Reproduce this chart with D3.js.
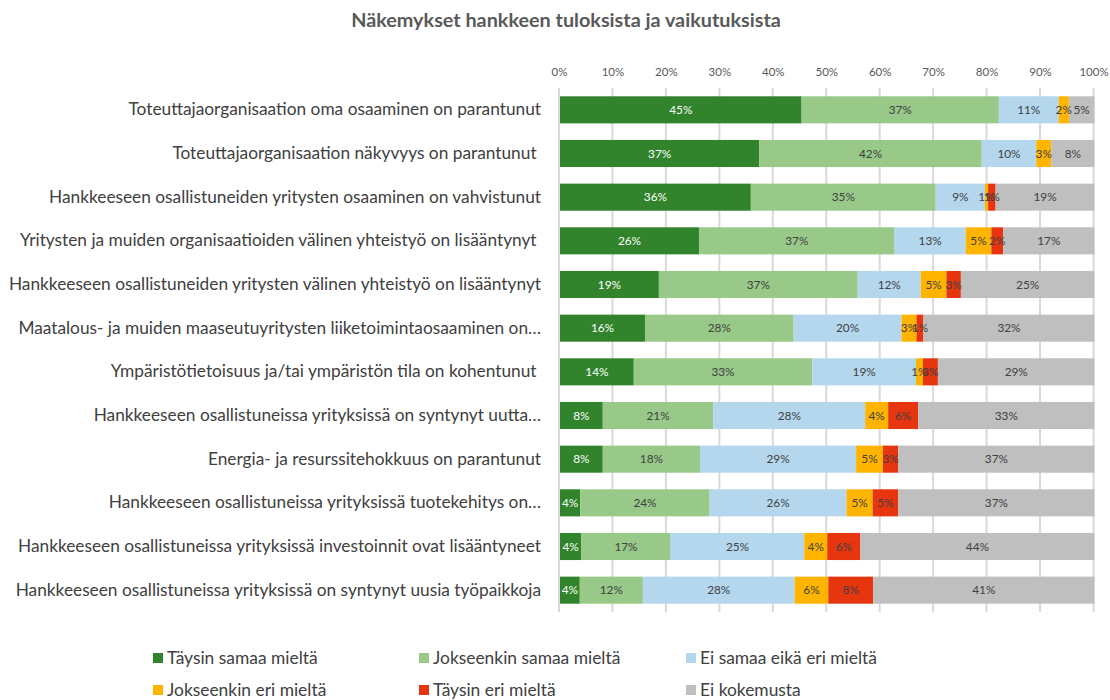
<!DOCTYPE html>
<html><head><meta charset="utf-8">
<script src="https://cdn.jsdelivr.net/npm/d3@7"></script>
<style>
html,body{margin:0;padding:0;background:#fff;}
svg{display:block;font-family:Lato,"Open Sans",sans-serif;}
</style></head>
<body>
<svg id="chart" width="1110" height="700"></svg>
<script>
const title = "Näkemykset hankkeen tuloksista ja vaikutuksista";
const categories = [
  "Toteuttajaorganisaation oma osaaminen on parantunut",
  "Toteuttajaorganisaation näkyvyys on parantunut\u00A0",
  "Hankkeeseen osallistuneiden yritysten osaaminen on vahvistunut",
  "Yritysten ja muiden organisaatioiden välinen yhteistyö on lisääntynyt\u00A0",
  "Hankkeeseen osallistuneiden yritysten välinen yhteistyö on lisääntynyt",
  "Maatalous- ja muiden maaseutuyritysten liiketoimintaosaaminen on…",
  "Ympäristötietoisuus ja/tai ympäristön tila on kohentunut\u00A0",
  "Hankkeeseen osallistuneissa yrityksissä on syntynyt uutta…",
  "Energia- ja resurssitehokkuus on parantunut",
  "Hankkeeseen osallistuneissa yrityksissä tuotekehitys on…",
  "Hankkeeseen osallistuneissa yrityksissä investoinnit ovat lisääntyneet",
  "Hankkeeseen osallistuneissa yrityksissä on syntynyt uusia työpaikkoja"
];
const seriesNames = ["Täysin samaa mieltä","Jokseenkin samaa mieltä","Ei samaa eikä eri mieltä","Jokseenkin eri mieltä","Täysin eri mieltä","Ei kokemusta"];
const seriesColors = ["#31842c","#98c988","#b4d7ee","#ffb400","#e6350f","#bfbfbf"];
const taysinSamaa     = [45.2,37.3,35.7,26.0,18.5,15.9,13.8, 8.0, 8.0, 3.8, 4.0, 3.7];
const jokseenkinSamaa = [36.9,41.6,34.6,36.6,37.2,27.8,33.4,20.7,18.2,24.2,16.7,11.8];
const eiSamaaEikaEri  = [11.2,10.2, 9.2,13.3,11.8,20.2,19.4,28.4,29.2,25.6,25.0,28.4];
const jokseenkinEri   = [ 1.9, 2.8, 0.6, 4.8, 4.8, 2.8, 1.3, 4.3, 5.0, 4.9, 4.3, 6.3];
const taysinEri       = [ 0.0, 0.0, 1.4, 2.2, 2.7, 1.3, 2.8, 5.6, 2.9, 4.8, 6.2, 8.4];
const eiKokemusta     = [ 4.8, 8.1,18.5,17.1,25.0,32.0,29.3,33.0,36.7,36.7,43.8,41.4];
const tickValues = [0,10,20,30,40,50,60,70,80,90,100];

const seriesValues = [taysinSamaa,jokseenkinSamaa,eiSamaaEikaEri,jokseenkinEri,taysinEri,eiKokemusta];
const rows = categories.map((c,i)=>{const o={cat:c};seriesNames.forEach((s,j)=>o[s]=seriesValues[j][i]);return o;});
const stacked = d3.stack().keys(seriesNames)(rows);

const svg = d3.select("#chart");
const x = d3.scaleLinear().domain([0,100]).range([559,1093.5]);
const y = d3.scaleBand().domain(categories).range([88,612]).paddingInner(0.38).paddingOuter(0.19);

svg.append("text").attr("x",566).attr("y",27).attr("text-anchor","middle")
  .attr("font-size",19.8).attr("font-weight","bold").attr("fill","#595959").text(title);

// gridlines
svg.append("g").selectAll("line").data(tickValues).join("line")
  .attr("x1",d=>x(d)).attr("x2",d=>x(d)).attr("y1",88).attr("y2",612)
  .attr("stroke","#d9d9d9").attr("stroke-width",2);

// top axis
const ax = svg.append("g").attr("transform","translate(0,79)")
  .call(d3.axisTop(x).tickValues(tickValues).tickFormat(d=>d+"%").tickSize(0));
ax.select(".domain").remove();
ax.selectAll("text").attr("font-size",11.5).attr("fill","#595959").attr("font-family","Lato,sans-serif");

// category labels
const ay = svg.append("g").attr("transform","translate(541,0)")
  .call(d3.axisLeft(y).tickSize(0).tickPadding(0));
ay.select(".domain").remove();
ay.selectAll("text").attr("font-size",17.3).attr("fill","#404040").attr("font-family","Lato,sans-serif").attr("dy","0.32em").style("white-space","pre");

// bars
const layers = svg.append("g").selectAll("g").data(stacked).join("g")
  .attr("fill",(d,i)=>seriesColors[i]);
layers.selectAll("rect").data(d=>d.map(p=>({p,cat:p.data.cat}))).join("rect")
  .attr("x",d=>x(d.p[0])+1).attr("width",d=>Math.max(0,x(d.p[1])-x(d.p[0])))
  .attr("y",d=>y(d.cat)).attr("height",y.bandwidth());

// data labels
const lab = svg.append("g");
stacked.forEach((s,i)=>{
  lab.selectAll(null).data(s.filter(p=>p[1]-p[0]>0)).join("text")
    .attr("x",p=>x((p[0]+p[1])/2)+1).attr("y",p=>y(p.data.cat)+y.bandwidth()/2)
    .attr("dy","0.35em").attr("text-anchor","middle").attr("font-size",11.8)
    .attr("fill",i===0?"#ffffff":"#404040")
    .text(p=>Math.round(p[1]-p[0])+"%");
});

// legend
const legX = [153,419,686], legY = [658,690];
const leg = svg.append("g").selectAll("g").data(seriesNames).join("g")
  .attr("transform",(d,i)=>`translate(${legX[i%3]},${legY[Math.floor(i/3)]})`);
leg.append("rect").attr("x",0).attr("y",-5).attr("width",10).attr("height",10).attr("fill",(d,i)=>seriesColors[i]);
leg.append("text").attr("x",14).attr("dy","0.35em").attr("font-size",17.4).attr("fill","#404040").text(d=>d);
</script>
</body></html>
